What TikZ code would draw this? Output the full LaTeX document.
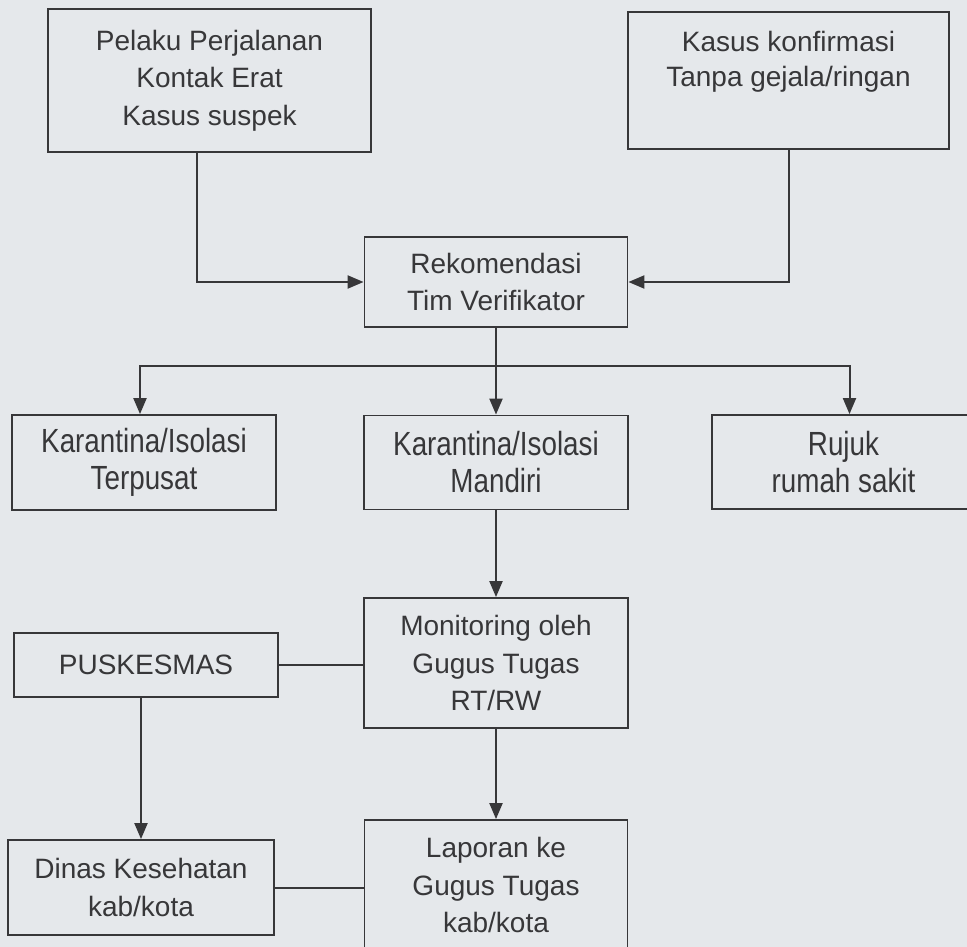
\documentclass[tikz,border=0pt]{standalone}
\usepackage{fontspec}
\setmainfont{Liberation Sans}
\newfontfamily\sempitfont{Liberation Sans}[FakeStretch=0.83]
\usetikzlibrary{arrows.meta}

\definecolor{kertas}{RGB}{229,232,235}
\definecolor{tinta}{RGB}{55,55,57}

\tikzset{
  kotak/.style={draw=tinta, line width=1.8pt, align=center, text=tinta,
    inner sep=0pt, font=\fontsize{28}{37.5}\selectfont},
  sempit/.style={font=\sempitfont\fontsize{33.5}{37}\selectfont},
  teks/.style={align=center, text=tinta, inner sep=0pt,
    font=\fontsize{28}{35}\selectfont},
  sambung/.style={draw=tinta, line width=2pt},
  panah/.style={sambung, -{Triangle[length=16pt,width=13pt]}}
}

\begin{document}
\begin{tikzpicture}[x=1pt, y=-1pt]
    \fill[kertas] (0,0) rectangle (967,947);
    \useasboundingbox (0,0) rectangle (967,947);

    % baris atas
    \node[kotak, minimum width=323pt, minimum height=143pt] (pelaku) at (209.5,80.5)
          {Pelaku Perjalanan\\Kontak Erat\\Kasus suspek};
    \node[kotak, minimum width=321pt, minimum height=137pt] (konfirmasi) at (788.5,80.5) {};
    \node[teks] (konfirmasiteks) at (788.5,62) {Kasus konfirmasi\\Tanpa gejala/ringan};

    \node[kotak, minimum width=263pt, minimum height=90pt] (rek) at (496,282)
          {Rekomendasi\\Tim Verifikator};

    % pilihan
    \node[kotak, sempit, minimum width=264pt, minimum height=95pt] (terpusat) at (144,462.5)
          {Karantina/Isolasi\\Terpusat};
    \node[kotak, sempit, minimum width=264pt, minimum height=94pt] (mandiri) at (496,462.5)
          {Karantina/Isolasi\\Mandiri};
    \node[kotak, sempit, minimum width=263pt, minimum height=94pt] (rujuk) at (843.5,462)
          {Rujuk\\rumah sakit};

    % pemantauan
    \node[kotak, minimum width=264pt, minimum height=130pt] (monitoring) at (496,663)
          {Monitoring oleh\\Gugus Tugas\\RT/RW};
    \node[kotak, minimum width=264pt, minimum height=64pt] (puskesmas) at (146,665)
          {PUSKESMAS};
    \node[kotak, minimum width=266pt, minimum height=95pt] (dinas) at (141,887.5)
          {Dinas Kesehatan\\kab/kota};
    \node[kotak, minimum width=263pt, minimum height=130pt] (laporan) at (496,885)
          {Laporan ke\\Gugus Tugas\\kab/kota};

    \coordinate (cabang) at (496,366);

    \draw[panah] ([xshift=-13pt]pelaku.south) |- (rek.west);
    \draw[panah] (konfirmasi.south) |- (rek.east);
    \draw[sambung] (rek.south) -- (cabang);
    \draw[panah] (cabang) -| ([xshift=-4pt]terpusat.north);
    \draw[panah] (cabang) -- (mandiri.north);
    \draw[panah] (cabang) -| ([xshift=6pt]rujuk.north);
    \draw[panah] (mandiri.south) -- (monitoring.north);
    \draw[sambung] (puskesmas.east) -- (puskesmas.east -| monitoring.west);
    \draw[panah] (puskesmas.south -| dinas.north) -- (dinas.north);
    \draw[panah] (monitoring.south) -- (laporan.north);
    \draw[sambung] (dinas.east) -- (dinas.east -| laporan.west);
\end{tikzpicture}
\end{document}
